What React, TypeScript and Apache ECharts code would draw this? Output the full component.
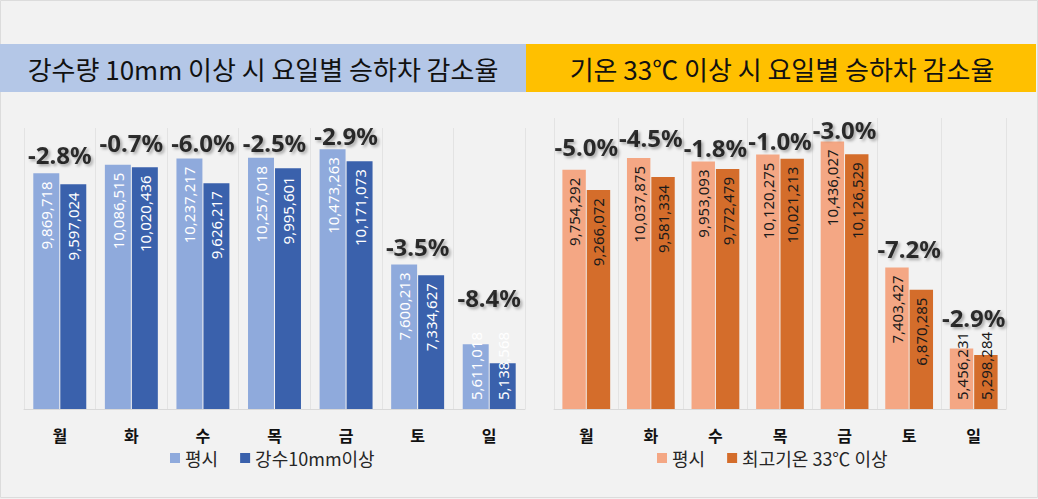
import React, { useEffect, useRef } from "react";
import * as echarts from "echarts";

const days = ["월", "화", "수", "목", "금", "토", "일"];

const rainNormal = [9869718, 10086515, 10237217, 10257018, 10473263, 7600213, 5611018];
const rainHeavy = [9597024, 10020436, 9626217, 9995601, 10171073, 7334627, 5138568];
const rainPct = ["-2.8%", "-0.7%", "-6.0%", "-2.5%", "-2.9%", "-3.5%", "-8.4%"];
const rainPctLevel = [10330000, 10630000, 10630000, 10630000, 10810000, 8060000, 6770000];

const heatNormal = [9754292, 10037875, 9953093, 10120275, 10436027, 7403427, 5456231];
const heatHot = [9266072, 9581334, 9772479, 10021213, 10126529, 6870285, 5298284];
const heatPct = ["-5.0%", "-4.5%", "-1.8%", "-1.0%", "-3.0%", "-7.2%", "-2.9%"];
const heatPctLevel = [10310000, 10540000, 10300000, 10450000, 10730000, 7870000, 6210000];

const leftTitle = "강수량 10mm 이상 시 요일별 승하차 감소율";
const rightTitle = "기온 33℃ 이상 시 요일별 승하차 감소율";
const legendNormal = "평시";
const legendRain = "강수10mm이상";
const legendHeat = "최고기온 33℃ 이상";

const Y_MIN = 4000000;
const Y_MAX = 11000000;

const C_RAIN_L = "#8faadc";
const C_RAIN_D = "#3a61ac";
const C_HEAT_L = "#f4a784";
const C_HEAT_D = "#d46d2b";

const KR = "'Noto Sans CJK KR', 'Noto Sans', sans-serif";
const NUM = "'Noto Sans', 'Noto Sans CJK KR', sans-serif";

const fmt = (v: number) => v.toLocaleString("en-US");

export default function App() {
  const ref = useRef<HTMLDivElement>(null);
  useEffect(() => {
    document.body.style.margin = "0";
    const chart = echarts.init(ref.current!, undefined, { renderer: "svg" });

    const xAxisBase = (gridIndex: number) => ({
      type: "category" as const,
      gridIndex,
      data: days,
      axisTick: { show: false },
      axisLine: { lineStyle: { color: "#d9d9d9", width: 1 } },
      splitLine: { show: true, lineStyle: { color: "#e3e3e3", width: 1 } },
      axisLabel: {
        color: "#111",
        fontFamily: KR,
        fontWeight: "bold" as const,
        fontSize: 16,
        lineHeight: 16,
        margin: 18,
      },
    });
    const yAxisBase = (gridIndex: number) => ({
      type: "value" as const,
      gridIndex,
      min: Y_MIN,
      max: Y_MAX,
      show: false,
      splitLine: { show: false },
    });

    const barLabel = (color: string) => ({
      show: true,
      position: "insideTop" as const,
      rotate: 90,
      align: "right" as const,
      verticalAlign: "middle" as const,
      distance: 8,
      color,
      fontFamily: NUM,
      fontSize: 15,
      formatter: (p: any) => fmt(p.value),
    });

    // short bars: label anchored from the bottom, running above the bar like the original
    const barData = (vals: number[]) =>
      vals.map((v) =>
        v - Y_MIN < 2200000
          ? { value: v, label: { position: "insideBottom", align: "left", distance: 9 } }
          : v
      );

    const pctSeries = (name: string, x: number, y: number, levels: number[], texts: string[]) => ({
      type: "scatter" as const,
      name,
      xAxisIndex: x,
      yAxisIndex: y,
      symbolSize: 1,
      itemStyle: { color: "rgba(0,0,0,0)" },
      silent: true,
      z: 10,
      data: levels.map((v, i) => [i, v]),
      label: {
        show: true,
        position: "inside" as const,
        formatter: (p: any) => texts[p.dataIndex],
        fontFamily: NUM,
        fontWeight: "bold" as const,
        fontSize: 24,
        color: "#000",
        textShadowColor: "rgba(0,0,0,0.4)",
        textShadowBlur: 3,
        textShadowOffsetX: 2,
        textShadowOffsetY: 2,
      },
    });

    const legendBase = {
      padding: 0,
      itemWidth: 10,
      itemHeight: 10,
      itemGap: 22,
      icon: "rect",
      textStyle: { fontFamily: KR, fontSize: 18, lineHeight: 18, color: "#262626" },
    };

    chart.setOption({
      animation: false,
      backgroundColor: "#f2f2f2",
      graphic: [
        { type: "rect", shape: { x: 0.5, y: 0.5, width: 1037, height: 497 }, style: { fill: "none", stroke: "#dcdcdc", lineWidth: 1 }, silent: true },
        { type: "rect", shape: { x: 0, y: 44, width: 526, height: 48 }, style: { fill: "#b4c7e7" }, silent: true },
        { type: "rect", shape: { x: 526, y: 44, width: 510, height: 48 }, style: { fill: "#ffc000" }, silent: true },
        {
          type: "text",
          x: 263,
          y: 68,
          style: { text: leftTitle, fontFamily: KR, fontSize: 26, fill: "#111", textAlign: "center", textVerticalAlign: "middle" },
          silent: true,
        },
        {
          type: "text",
          x: 782,
          y: 68,
          style: { text: rightTitle, fontFamily: KR, fontSize: 26, fill: "#111", textAlign: "center", textVerticalAlign: "middle" },
          silent: true,
        },
      ],
      grid: [
        { left: 24, top: 128, width: 501, height: 281 },
        { left: 554, top: 118, width: 452, height: 291 },
      ],
      xAxis: [xAxisBase(0), xAxisBase(1)],
      yAxis: [yAxisBase(0), yAxisBase(1)],
      legend: [
        {
          ...legendBase,
          left: 170,
          top: 449,
          data: [
            { name: legendNormal, itemStyle: { color: C_RAIN_L } },
            { name: legendRain, itemStyle: { color: C_RAIN_D } },
          ],
        },
        {
          ...legendBase,
          left: 657,
          top: 449,
          data: [
            { name: legendNormal, itemStyle: { color: C_HEAT_L } },
            { name: legendHeat, itemStyle: { color: C_HEAT_D } },
          ],
        },
      ],
      series: [
        {
          type: "bar",
          name: legendNormal,
          xAxisIndex: 0,
          yAxisIndex: 0,
          data: barData(rainNormal),
          itemStyle: { color: C_RAIN_L },
          barGap: "4%",
          barCategoryGap: "26%",
          label: barLabel("#ffffff"),
        },
        {
          type: "bar",
          name: legendRain,
          xAxisIndex: 0,
          yAxisIndex: 0,
          data: barData(rainHeavy),
          itemStyle: { color: C_RAIN_D },
          barGap: "4%",
          barCategoryGap: "26%",
          label: barLabel("#ffffff"),
        },
        {
          type: "bar",
          name: legendNormal,
          xAxisIndex: 1,
          yAxisIndex: 1,
          data: barData(heatNormal),
          itemStyle: { color: C_HEAT_L },
          barGap: "4%",
          barCategoryGap: "26%",
          label: barLabel("#1a1a1a"),
        },
        {
          type: "bar",
          name: legendHeat,
          xAxisIndex: 1,
          yAxisIndex: 1,
          data: barData(heatHot),
          itemStyle: { color: C_HEAT_D },
          barGap: "4%",
          barCategoryGap: "26%",
          label: barLabel("#1a1a1a"),
        },
        pctSeries("rainPct", 0, 0, rainPctLevel, rainPct),
        pctSeries("heatPct", 1, 1, heatPctLevel, heatPct),
      ],
    });
    return () => chart.dispose();
  }, []);
  return <div ref={ref} style={{ width: 1038, height: 499 }} />;
}
